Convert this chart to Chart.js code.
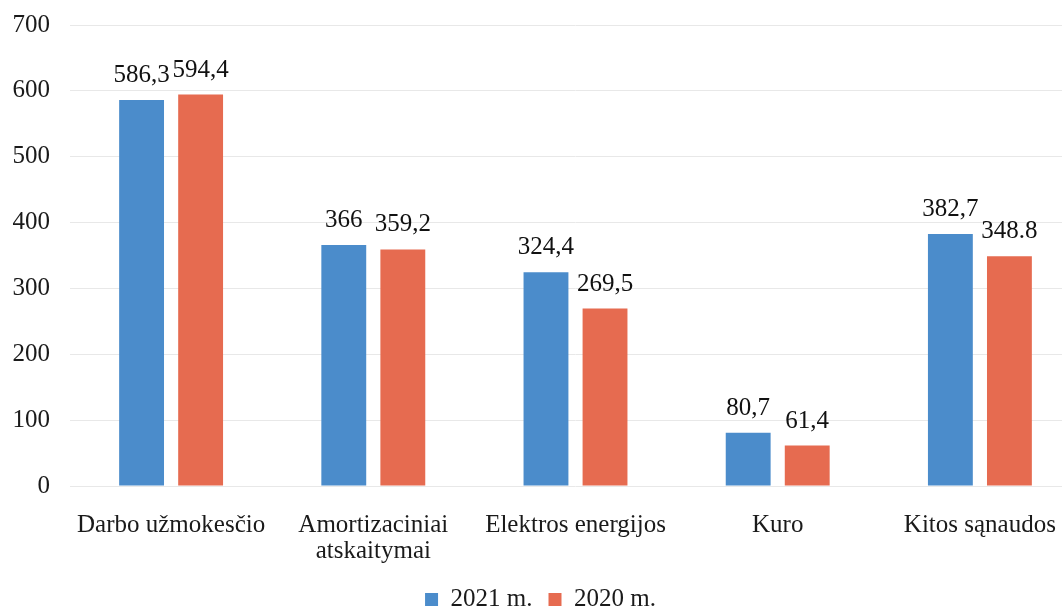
<!DOCTYPE html>
<html>
<head>
<meta charset="utf-8">
<script src="https://cdn.jsdelivr.net/npm/chart.js@4"></script>
<style>
  html, body { margin: 0; padding: 0; background: #fff; overflow: hidden; }
  #wrap { width: 1104px; height: 622px; }
</style>
</head>
<body>
<div id="wrap"><canvas id="chart" width="1104" height="622"></canvas></div>
<script>
// categorias y valores
var categorias = ['Darbo užmokesčio', ['Amortizaciniai', 'atskaitymai'], 'Elektros energijos', 'Kuro', 'Kitos sąnaudos'];
var valores2021 = [586.3, 366, 324.4, 80.7, 382.7];
var valores2020 = [594.4, 359.2, 269.5, 61.4, 348.8];
var etiquetas2021 = ['586,3', '366', '324,4', '80,7', '382,7'];
var etiquetas2020 = ['594,4', '359,2', '269,5', '61,4', '348.8'];
var series = ['2021 m.', '2020 m.'];
var ticksY = [0, 100, 200, 300, 400, 500, 600, 700];

var fuente = '"Liberation Serif", "Times New Roman", serif';

// Etiquetas de valor sobre las barras
var etiquetasPlugin = {
    id: 'etiquetasValor',
    afterDatasetsDraw: function (chart) {
        var ctx = chart.ctx;
        var textos = [etiquetas2021, etiquetas2020];
        ctx.save();
        ctx.font = '25px ' + fuente;
        ctx.fillStyle = '#111';
        ctx.textAlign = 'center';
        ctx.textBaseline = 'alphabetic';
        chart.data.datasets.forEach(function (ds, i) {
            chart.getDatasetMeta(i).data.forEach(function (bar, j) {
                ctx.fillText(textos[i][j], bar.x, bar.y - 18);
            });
        });
        ctx.restore();
    }
};

var ctx = document.getElementById('chart').getContext('2d');
new Chart(ctx, {
    type: 'bar',
    data: {
        labels: categorias,
        datasets: [{
            label: series[0],
            data: valores2021,
            backgroundColor: '#4b8ccb',
            barPercentage: 0.76,
            categoryPercentage: 0.584
        }, {
            label: series[1],
            data: valores2020,
            backgroundColor: '#e66b50',
            barPercentage: 0.76,
            categoryPercentage: 0.584
        }]
    },
    options: {
        responsive: false,
        animation: false,
        devicePixelRatio: 1,
        layout: {
            padding: { top: 25, right: 23, left: 0, bottom: 0 }
        },
        scales: {
            y: {
                min: 0,
                max: 700,
                afterBuildTicks: function (scale) {
                    scale.ticks = ticksY.map(function (v) { return { value: v }; });
                },
                afterFit: function (scale) {
                    scale.width = 70;
                    scale.paddingTop = 0;
                    scale.paddingBottom = 0;
                },
                border: { display: false },
                grid: { color: '#e8e8e8', lineWidth: 1, drawTicks: false },
                ticks: {
                    padding: 20,
                    color: '#1a1a1a',
                    font: { family: fuente, size: 25, lineHeight: 1 }
                }
            },
            x: {
                afterFit: function (scale) { scale.height = 85; },
                border: { display: false },
                grid: { display: false },
                ticks: {
                    padding: 18,
                    maxRotation: 0,
                    color: '#1a1a1a',
                    font: { family: fuente, size: 25, lineHeight: 1.05 }
                }
            }
        },
        plugins: {
            tooltip: { enabled: false },
            legend: {
                position: 'bottom',
                labels: {
                    boxWidth: 13,
                    boxHeight: 13,
                    padding: 16,
                    color: '#1a1a1a',
                    font: { family: fuente, size: 25 }
                }
            }
        }
    },
    plugins: [etiquetasPlugin]
});
</script>
</body>
</html>
